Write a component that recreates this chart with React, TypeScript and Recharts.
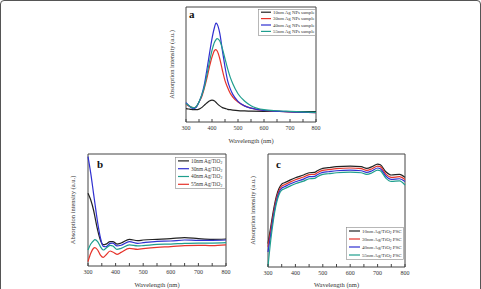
import React from 'react';
import { LineChart, Line, XAxis, YAxis, ReferenceArea, Label } from 'recharts';

const FONT = '"Liberation Serif", "Times New Roman", serif';
const TEXT = '#333';
const FRAME = '#444';

const BLACK = '#222222';
const RED = '#e6332a';
const BLUE = '#3030d0';
const TEAL = '#1f9e8e';

const WAVE_TICKS = [300, 350, 400, 450, 500, 550, 600, 650, 700, 750, 800];

// (a) Ag NPs samples
const WAVE_A = [300, 310, 320, 330, 340, 350, 360, 370, 380, 390, 400, 410, 415, 420, 430, 440, 450, 460, 470, 480, 500, 525, 550, 600, 650, 700, 800];
const A_10 = [11.6, 11.3, 11, 10.8, 10.7, 11.2, 12.5, 14.5, 16.5, 18.3, 19.1, 18.3, 17.2, 16, 14, 12.5, 11.8, 11, 10.7, 10.4, 9.9, 9.6, 9.4, 9.3, 9.2, 9.1, 9];
const A_30 = [15.4, 14, 13, 12.2, 13.6, 17.4, 21.7, 29, 37.7, 47.8, 56.5, 62.3, 63, 61.7, 55, 45, 36, 30, 25, 21.7, 17.4, 14, 12, 10, 9.3, 8.7, 8.1];
const A_40 = [16.8, 14.5, 12.5, 11.6, 13, 17.4, 23, 32, 45, 59, 72.5, 82.6, 86, 85, 77, 62, 48, 36, 29, 24, 18, 14, 12, 10, 9.3, 8.7, 8.1];
const A_55 = [16, 14.5, 13, 12.2, 13.6, 17.4, 23, 30, 40.6, 52, 62.3, 69.6, 71.5, 72.5, 70.4, 63.8, 55, 46.4, 39, 33.3, 24.6, 18.3, 14.2, 10.7, 9.8, 9.3, 8.4];

// (b) Ag/TiO2 films
const WAVE_B = [300, 310, 320, 325, 335, 345, 355, 365, 380, 390, 405, 420, 450, 480, 500, 550, 600, 650, 700, 750, 800];
const B_10 = [64.9, 58.9, 50, 44, 32, 23, 19, 19.5, 21.8, 21.8, 19.6, 20.5, 23.8, 22.6, 23.2, 23.8, 24.4, 25.3, 24.4, 23.8, 24.1];
const B_30 = [97.6, 82.7, 64.9, 56, 38.8, 25.4, 17.5, 17.2, 20.2, 20.5, 17.9, 18.5, 21.7, 20.2, 20.8, 22, 22.3, 23.2, 22.9, 22.9, 23.2];
const B_40 = [14.3, 19.6, 22.6, 23.5, 21.7, 17.3, 14.3, 15.8, 18.5, 17.9, 14.9, 15.8, 18.8, 17.9, 18.2, 19.3, 19.6, 20.2, 20.5, 20.5, 20.8];
const B_55 = [3.9, 11.3, 15.8, 16.4, 14.3, 9.8, 7.7, 9.8, 13.4, 12.5, 10.4, 12.2, 15.8, 14.9, 15.5, 16.7, 17.3, 18.2, 18.5, 18.2, 18.8];

// (c) Ag/TiO2 PSC
const WAVE_C = [300, 310, 320, 330, 340, 350, 360, 380, 400, 430, 450, 470, 480, 500, 520, 550, 600, 640, 660, 680, 700, 710, 730, 750, 780, 800];
const C_10 = [20.7, 35.5, 50.3, 62.1, 69.5, 73.4, 74.6, 76.9, 79, 81.4, 83.4, 83.7, 85.2, 87.3, 87.9, 88.8, 89.3, 88.8, 87.3, 88.8, 91.1, 90.5, 84.3, 81.4, 82, 79.3];
const C_30 = [17.8, 32.5, 47.3, 59.8, 67.5, 71.6, 72.8, 75.1, 77.2, 79.6, 81.7, 82, 83.4, 85.5, 86.1, 87, 87.6, 87, 85.5, 87, 89.3, 88.8, 82.2, 79.3, 79.9, 77.5];
const C_40 = [13.3, 29, 45, 57.7, 65.7, 69.8, 71, 73.4, 75.4, 77.8, 79.9, 80.2, 81.7, 83.7, 84.3, 85.2, 85.8, 85.2, 83.7, 85.2, 87.6, 87, 80.5, 77.5, 78.1, 75.7];
const C_55 = [0.6, 23.7, 42, 55.6, 63.9, 68, 69.2, 71.6, 73.7, 76, 78.1, 78.4, 79.9, 82, 82.5, 83.4, 84, 83.4, 82, 83.4, 85.8, 85.2, 78.7, 75.7, 76.3, 72.5];

type Series = { key: string; color: string; text: string; sub?: string; tail?: string };

const zip = (wave: number[], cols: Record<string, number[]>) =>
  wave.map((w, i) => {
    const row: Record<string, number> = { w };
    Object.keys(cols).forEach((k) => (row[k] = cols[k][i]));
    return row;
  });

const dataA = zip(WAVE_A, { s10: A_10, s30: A_30, s40: A_40, s55: A_55 });
const dataB = zip(WAVE_B, { s10: B_10, s30: B_30, s40: B_40, s55: B_55 });
const dataC = zip(WAVE_C, { s10: C_10, s30: C_30, s40: C_40, s55: C_55 });

const seriesA: Series[] = [
  { key: 's10', color: BLACK, text: '10nm Ag NPs sample' },
  { key: 's30', color: RED, text: '30nm Ag NPs sample' },
  { key: 's40', color: BLUE, text: '40nm Ag NPs sample' },
  { key: 's55', color: TEAL, text: '55nm Ag NPs sample' },
];
const seriesB: Series[] = [
  { key: 's10', color: BLACK, text: '10nm Ag/TiO', sub: '2' },
  { key: 's30', color: BLUE, text: '30nm Ag/TiO', sub: '2' },
  { key: 's40', color: TEAL, text: '40nm Ag/TiO', sub: '2' },
  { key: 's55', color: RED, text: '55nm Ag/TiO', sub: '2' },
];
const seriesC: Series[] = [
  { key: 's10', color: BLACK, text: '10nm Ag/TiO', sub: '2', tail: ' PSC' },
  { key: 's30', color: RED, text: '30nm Ag/TiO', sub: '2', tail: ' PSC' },
  { key: 's40', color: BLUE, text: '40nm Ag/TiO', sub: '2', tail: ' PSC' },
  { key: 's55', color: TEAL, text: '55nm Ag/TiO', sub: '2', tail: ' PSC' },
];

// inward tick marks on the bottom frame, labels only on the hundreds
const WaveTick = (props: any) => {
  const { x, y, payload } = props;
  const major = payload.value % 100 === 0;
  return (
    <g>
      <line x1={x} x2={x} y1={y} y2={y - 3} stroke={FRAME} strokeWidth={1} />
      {major && (
        <text x={x} y={y + 8} textAnchor="middle" fontSize={6} fill={TEXT} fontFamily={FONT}>
          {payload.value}
        </text>
      )}
    </g>
  );
};

type LegendProps = {
  items: Series[];
  width: number;
  height: number;
  rowGap: number;
  fontSize: number;
  lineLen: number;
};

const LegendBox = ({ items, width, height, rowGap, fontSize, lineLen }: LegendProps) => (
  <svg width={width} height={height} style={{ display: 'block', overflow: 'visible' }}>
    <rect x={0.5} y={0.5} width={width - 1} height={height - 1} fill="#fff" stroke="#888" strokeWidth={0.6} />
    {items.map((s, i) => {
      const cy = rowGap * 0.5 + i * rowGap;
      return (
        <g key={s.key}>
          <line x1={3} x2={3 + lineLen} y1={cy} y2={cy} stroke={s.color} strokeWidth={1.2} />
          <text x={5 + lineLen} y={cy + fontSize * 0.35} fontSize={fontSize} fill={TEXT} fontFamily={FONT}>
            {s.text}
            {s.sub && (
              <tspan dy={1} fontSize={fontSize * 0.7}>
                {s.sub}
              </tspan>
            )}
            {s.sub && <tspan dy={-1}>{s.tail ?? ''}</tspan>}
          </text>
        </g>
      );
    })}
  </svg>
);

type PanelProps = {
  data: Record<string, number>[];
  series: Series[];
  letter: string;
  left: number;
  top: number;
  width: number;
  height: number;
  axisW: number;
  xAxisH: number;
  marginTop: number;
  marginRight: number;
  xLabelOffset: number;
  letterPos: { x: number; y: number };
  legend: { x: number; y: number; w: number; h: number; rowGap: number; fontSize: number; lineLen: number };
};

const Panel = (p: PanelProps) => (
  <div style={{ position: 'absolute', left: p.left, top: p.top, width: p.width, height: p.height }}>
    <LineChart
      width={p.width}
      height={p.height}
      data={p.data}
      margin={{ top: p.marginTop, right: p.marginRight, left: 0, bottom: 0 }}
    >
      <XAxis
        dataKey="w"
        type="number"
        domain={[300, 800]}
        ticks={WAVE_TICKS}
        interval={0}
        height={p.xAxisH}
        axisLine={false}
        tickLine={false}
        tickSize={0}
        tickMargin={0}
        tick={<WaveTick />}
      >
        <Label
          value="Wavelength (nm)"
          position="insideBottom"
          offset={p.xLabelOffset}
          style={{ fontSize: 6.5, fill: TEXT, fontFamily: FONT }}
        />
      </XAxis>
      <YAxis domain={[0, 100]} width={p.axisW} tick={false} axisLine={false} tickLine={false}>
        <Label
          value="Absorption intensity (a.u.)"
          angle={-90}
          position="center"
          style={{ fontSize: 6.5, fill: TEXT, fontFamily: FONT, textAnchor: 'middle' }}
        />
      </YAxis>
      {p.series.map((s) => (
        <Line
          key={s.key}
          dataKey={s.key}
          type="monotone"
          stroke={s.color}
          strokeWidth={1.2}
          dot={false}
          isAnimationActive={false}
        />
      ))}
      <ReferenceArea x1={300} x2={800} y1={0} y2={100} fill="none" stroke={FRAME} strokeWidth={1} ifOverflow="visible" />
    </LineChart>
    <div
      style={{
        position: 'absolute',
        left: p.letterPos.x,
        top: p.letterPos.y,
        fontFamily: FONT,
        fontWeight: 'bold',
        fontSize: 11,
        lineHeight: '11px',
        color: '#111',
      }}
    >
      {p.letter}
    </div>
    <div style={{ position: 'absolute', left: p.legend.x, top: p.legend.y }}>
      <LegendBox
        items={p.series}
        width={p.legend.w}
        height={p.legend.h}
        rowGap={p.legend.rowGap}
        fontSize={p.legend.fontSize}
        lineLen={p.legend.lineLen}
      />
    </div>
  </div>
);

export default function App() {
  return (
    <div
      style={{
        position: 'absolute',
        left: 0,
        top: 0,
        width: 481,
        height: 289,
        overflow: 'hidden',
        background: '#fff',
      }}
    >
      <div
        style={{
          position: 'absolute',
          left: 0,
          top: 0,
          width: 481,
          height: 300,
          boxSizing: 'border-box',
          border: '1px solid #555',
          borderRadius: 4,
        }}
      />
      <Panel
        data={dataA}
        series={seriesA}
        letter="a"
        left={158}
        top={0}
        width={166}
        height={148}
        axisW={28}
        xAxisH={26}
        marginTop={7}
        marginRight={8}
        xLabelOffset={5}
        letterPos={{ x: 31, y: 9 }}
        legend={{ x: 100, y: 9, w: 58, h: 27, rowGap: 6.4, fontSize: 4.8, lineLen: 10 }}
      />
      <Panel
        data={dataB}
        series={seriesB}
        letter="b"
        left={58}
        top={147}
        width={176}
        height={142}
        axisW={30}
        xAxisH={23}
        marginTop={7}
        marginRight={8}
        xLabelOffset={2}
        letterPos={{ x: 39, y: 12 }}
        legend={{ x: 117, y: 10, w: 51, h: 32, rowGap: 7.8, fontSize: 5.3, lineLen: 11 }}
      />
      <Panel
        data={dataC}
        series={seriesC}
        letter="c"
        left={238}
        top={147}
        width={175}
        height={142}
        axisW={30}
        xAxisH={22}
        marginTop={7}
        marginRight={8}
        xLabelOffset={2}
        letterPos={{ x: 38, y: 12 }}
        legend={{ x: 108, y: 80, w: 58, h: 33, rowGap: 8, fontSize: 5, lineLen: 11 }}
      />
    </div>
  );
}
